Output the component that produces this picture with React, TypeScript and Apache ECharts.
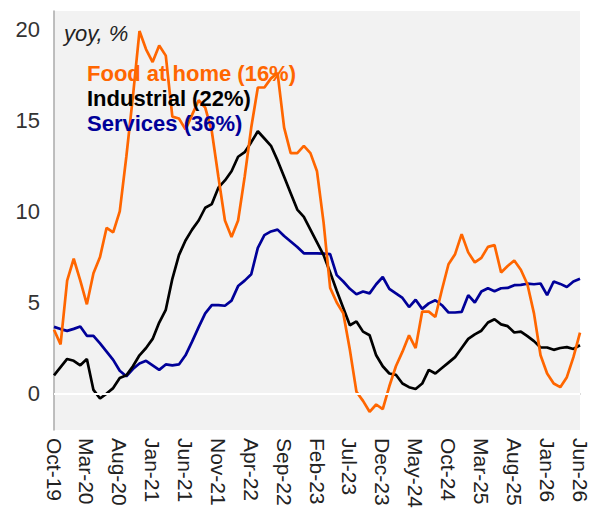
import React, { useEffect, useRef } from "react";
import * as echarts from "echarts";

const MONTH_NAMES = ["Jan", "Feb", "Mar", "Apr", "May", "Jun", "Jul", "Aug", "Sep", "Oct", "Nov", "Dec"];
// Oct-19 .. Jun-26 monthly
const categories: string[] = [];
for (let k = 0; k < 81; k++) {
  const m = (9 + k) % 12;
  const y = 19 + Math.floor((9 + k) / 12);
  categories.push(`${MONTH_NAMES[m]}-${y}`);
}

const foodAtHome = [
  3.5, 2.7, 6.2, 7.4, 6.2, 4.9, 6.6, 7.5, 9.1, 8.85,
  10.0, 13.0, 16.3, 19.9, 18.9, 18.2, 19.1, 18.55, 15.2, 15.1,
  14.5, 15.3, 16.1, 15.7, 14.4, 11.9, 9.5, 8.6, 9.5, 11.9,
  14.6, 16.8, 16.8, 17.3, 17.6, 14.6, 13.2, 13.2, 13.6, 13.2,
  12.2, 9.4, 5.8, 5.0, 4.4, 2.4, 0.1, -0.4, -1.0, -0.6,
  -0.85, 0.4, 1.5, 2.3, 3.2, 2.5, 4.5, 4.5, 4.2, 5.7,
  7.1, 7.65, 8.75, 7.75, 7.2, 7.45, 8.05, 8.15, 6.65, 7.0,
  7.3, 6.8, 6.0, 4.4, 2.1, 1.1, 0.55, 0.35, 0.9, 2.0,
  3.35,
];

const industrial = [
  1.0, 1.45, 1.9, 1.8, 1.55, 1.9, 0.2, -0.27, 0.0, 0.3,
  0.85, 1.0, 1.5, 2.1, 2.5, 3.0, 3.9, 4.6, 6.3, 7.6,
  8.4, 9.0, 9.5, 10.2, 10.4, 11.3, 11.7, 12.2, 13.0, 13.25,
  13.8, 14.4, 14.0, 13.6, 12.8, 11.9, 11.0, 10.1, 9.7, 9.0,
  8.3, 7.6, 6.65, 5.64, 4.7, 3.75, 3.96, 3.4, 3.2, 2.1,
  1.5, 1.1, 1.03, 0.55, 0.35, 0.25, 0.55, 1.3, 1.1, 1.4,
  1.7, 2.0, 2.5, 3.0, 3.25, 3.45, 3.9, 4.08, 3.8, 3.7,
  3.35, 3.4, 3.15, 2.88, 2.53, 2.53, 2.4, 2.5, 2.55, 2.45,
  2.65,
];

const services = [
  3.66, 3.54, 3.44, 3.55, 3.68, 3.17, 3.17, 2.75, 2.3, 1.85,
  1.25, 0.95, 1.35, 1.65, 1.8, 1.55, 1.3, 1.6, 1.55, 1.6,
  2.1, 2.85, 3.65, 4.4, 4.85, 4.85, 4.82, 5.1, 5.9, 6.2,
  6.55, 8.0, 8.7, 8.9, 9.0, 8.65, 8.35, 8.05, 7.7, 7.7,
  7.7, 7.68, 7.65, 6.5, 6.15, 5.75, 5.45, 5.6, 5.5, 6.0,
  6.4, 5.75, 5.5, 5.25, 4.75, 5.15, 4.65, 4.95, 5.12, 4.85,
  4.45, 4.45, 4.48, 5.4, 5.0, 5.6, 5.78, 5.62, 5.78, 5.8,
  5.95, 5.97, 6.03, 6.0, 6.04, 5.4, 6.15, 6.02, 5.85, 6.15,
  6.3,
];

const yTickLabels = [0, 5, 10, 15, 20];

const legendItems = [
  { text: "Food at home (16%)", color: "#FF6600" },
  { text: "Industrial (22%)", color: "#000000" },
  { text: "Services (36%)", color: "#000099" },
];

const FONT = "'Liberation Sans', Arial, sans-serif";

export default function App() {
  const ref = useRef<HTMLDivElement>(null);
  useEffect(() => {
    document.body.style.margin = "0";
    if (!ref.current) return;
    const chart = echarts.init(ref.current, null, { renderer: "svg" });
    const option: any = {
      animation: false,
      backgroundColor: "#ffffff",
      textStyle: { fontFamily: FONT },
      grid: {
        left: 54,
        right: 15,
        top: 11,
        bottom: 80,
        containLabel: false,
        outerBoundsMode: "none",
        show: true,
        backgroundColor: "#f2f2f2",
        borderWidth: 0,
      },
      xAxis: {
        type: "category",
        data: categories,
        boundaryGap: false,
        axisLine: { show: true, lineStyle: { color: "#aaaaaa", width: 1.5 } },
        axisTick: { show: false },
        splitLine: { show: false },
        axisLabel: {
          interval: 4,
          rotate: -90,
          margin: 8,
          fontSize: 21,
          color: "#222222",
          fontFamily: FONT,
        },
      },
      yAxis: {
        type: "value",
        min: -2,
        max: 21,
        interval: 1,
        axisLine: { show: true, lineStyle: { color: "#aaaaaa", width: 1.5 } },
        axisTick: { show: false },
        splitLine: { show: false },
        axisLabel: {
          margin: 14,
          fontSize: 22,
          color: "#333333",
          fontFamily: FONT,
          formatter: (v: number) => (yTickLabels.indexOf(v) >= 0 ? String(v) : ""),
        },
      },
      series: [
        {
          name: "zero",
          type: "line",
          data: [],
          z: 1,
          silent: true,
          markLine: {
            silent: true,
            symbol: ["none", "none"],
            label: { show: false },
            lineStyle: { color: "#ffffff", width: 2, type: "solid" },
            data: [{ yAxis: 0 }],
          },
        },
        {
          name: "Services (36%)",
          type: "line",
          data: services,
          showSymbol: false,
          z: 2,
          lineStyle: { color: "#000099", width: 2.7 },
          itemStyle: { color: "#000099" },
        },
        {
          name: "Industrial (22%)",
          type: "line",
          data: industrial,
          showSymbol: false,
          z: 3,
          lineStyle: { color: "#000000", width: 2.7 },
          itemStyle: { color: "#000000" },
        },
        {
          name: "Food at home (16%)",
          type: "line",
          data: foodAtHome,
          showSymbol: false,
          z: 4,
          lineStyle: { color: "#FF6600", width: 2.7 },
          itemStyle: { color: "#FF6600" },
        },
      ],
      graphic: [
        {
          type: "text",
          left: 64,
          top: 22,
          z: 10,
          style: {
            text: "yoy, %",
            fontSize: 22,
            fontStyle: "italic",
            fill: "#222222",
            fontFamily: FONT,
          },
        },
        ...legendItems.map((it, i) => ({
          type: "text",
          left: 87,
          top: 62 + i * 25,
          z: 10,
          style: {
            text: it.text,
            fontSize: 22,
            fontWeight: "bold",
            fill: it.color,
            fontFamily: FONT,
          },
        })),
      ],
    };
    chart.setOption(option);
    return () => chart.dispose();
  }, []);
  return <div ref={ref} style={{ width: 595, height: 510 }} />;
}
